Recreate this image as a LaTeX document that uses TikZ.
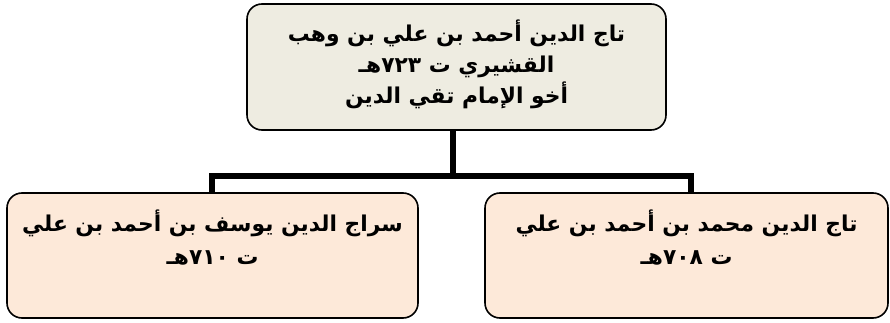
\documentclass[tikz,border=0pt]{standalone}
\usepackage{fontspec}
\TeXXeTstate=1
\newfontfamily\arabicfont[Script=Arabic]{DejaVu Sans}
\definecolor{topfill}{RGB}{238,236,225}
\definecolor{kidfill}{RGB}{253,233,217}
\begin{document}
\begin{tikzpicture}[x=1pt,y=-1pt,
  box/.style={draw=black,line width=1.6pt,rounded corners=15pt,inner sep=0pt},
  txt/.style={font=\arabicfont\bfseries\fontsize{21.8}{31}\selectfont,align=center,inner sep=0pt},
  kidtxt/.style={txt,font=\arabicfont\bfseries\fontsize{21.8}{33}\selectfont},
  conn/.style={draw=black,line width=6pt}]
\useasboundingbox (0,0) rectangle (890,323);
\node[box,fill=topfill,minimum width=419pt,minimum height=126pt] (top) at (456.5,67) {};
\node[box,fill=kidfill,minimum width=411pt,minimum height=125pt] (left) at (212.5,255.5) {};
\node[box,fill=kidfill,minimum width=403pt,minimum height=125pt] (right) at (686.5,255.5) {};
\node[txt] (toptxt) at (456.5,64) {\beginR تاج الدين أحمد بن علي بن وهب\endR\\ \beginR القشيري ت ٧٢٣هـ\endR\\ \beginR أخو الإمام تقي الدين\endR};
\node[kidtxt,anchor=north] (lefttxt) at (212.5,210) {\beginR سراج الدين يوسف بن أحمد بن علي\endR\\ \beginR ت  ٧١٠هـ\endR};
\node[kidtxt,anchor=north] (righttxt) at (686.5,210) {\beginR تاج الدين محمد بن أحمد بن علي\endR\\ \beginR ت ٧٠٨هـ\endR};
\coordinate (jc) at (453,176);
\coordinate (jl) at (212,176);
\coordinate (jr) at (691,176);
\draw[conn] (top.south -| jc) -- (jc);
\draw[conn] (jl |- left.north) -- (jl) -- (jr) -- (jr |- right.north);
\end{tikzpicture}
\end{document}
